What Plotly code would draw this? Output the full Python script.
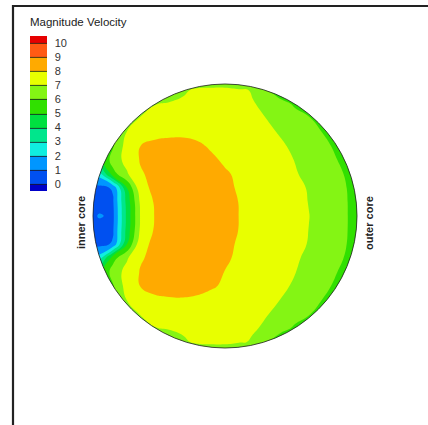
import numpy as np
import plotly.graph_objects as go

# grid positions (mm from the core centre); circle radius = 132
X_POS = [-140, -126, -112, -98, -84, -70, -56, -42, -28, -14, 0, 14, 28, 42, 56, 70, 84, 98, 112, 126, 140]
Y_POS = [140, 126, 112, 98, 84, 70, 56, 42, 28, 14, 0, -14, -28, -42, -56, -70, -84, -98, -112, -126, -140]
RADIUS = 132

# velocity magnitude, one row per Y_POS (top to bottom)
VELOCITY = [
    [4.0, 4.0, 4.0, 4.0, 4.0, 4.0, 4.0, 4.0, 4.0, 4.0, 4.0, 4.0, 4.0, 4.0, 4.0, 4.0, 4.0, 4.0, 4.0, 4.0, 4.0],
    [3.5, 3.5, 3.5, 3.5, 3.8, 4.2, 5.0, 6.6, 7.4, 7.55, 7.6, 7.2, 6.9, 6.0, 5.0, 4.5, 4.2, 4.0, 4.0, 4.0, 4.0],
    [3.5, 3.5, 3.5, 3.8, 5.0, 6.95, 7.3, 7.45, 7.5, 7.5, 7.45, 7.3, 7.05, 6.8, 6.5, 5.8, 4.8, 4.3, 4.0, 4.0, 4.0],
    [3.5, 3.5, 4.0, 6.0, 7.2, 7.5, 7.6, 7.62, 7.6, 7.55, 7.45, 7.33, 7.18, 6.98, 6.75, 6.5, 6.1, 5.4, 4.8, 4.5, 4.3],
    [3.5, 3.8, 5.5, 7.05, 7.6, 7.68, 7.75, 7.77, 7.75, 7.68, 7.58, 7.47, 7.33, 7.15, 6.92, 6.7, 6.45, 5.95, 5.3, 4.8, 4.5],
    [3.5, 4.5, 5.9, 7.45, 8.02, 8.25, 8.35, 8.35, 8.15, 7.9, 7.75, 7.65, 7.52, 7.35, 7.1, 6.85, 6.6, 6.4, 5.7, 5.0, 4.5],
    [3.0, 4.5, 6.5, 7.3, 8.1, 8.4, 8.5, 8.5, 8.4, 8.15, 7.88, 7.72, 7.58, 7.4, 7.2, 6.98, 6.75, 6.5, 6.02, 5.2, 4.5],
    [2.0, 2.4, 5.6, 6.9, 7.9, 8.3, 8.5, 8.6, 8.55, 8.4, 8.1, 7.86, 7.7, 7.5, 7.3, 7.06, 6.82, 6.6, 6.35, 5.6, 4.8],
    [0.7, 0.7, 1.1, 5.0, 7.8, 8.15, 8.5, 8.65, 8.68, 8.5, 8.22, 7.9, 7.76, 7.6, 7.4, 7.17, 6.95, 6.7, 6.45, 5.8, 5.0],
    [0.4, 0.5, 0.9, 4.4, 7.3, 8.1, 8.5, 8.7, 8.72, 8.58, 8.32, 7.98, 7.83, 7.66, 7.48, 7.2, 6.98, 6.72, 6.47, 5.85, 5.0],
    [0.3, 1.1, 0.8, 4.3, 7.2, 8.05, 8.5, 8.7, 8.75, 8.6, 8.35, 7.99, 7.84, 7.67, 7.5, 7.25, 7.01, 6.75, 6.5, 5.85, 5.0],
    [0.4, 0.5, 0.9, 4.4, 7.3, 8.1, 8.5, 8.7, 8.72, 8.58, 8.32, 7.98, 7.83, 7.66, 7.48, 7.22, 6.99, 6.72, 6.47, 5.85, 5.0],
    [0.7, 0.7, 1.1, 5.0, 7.8, 8.15, 8.5, 8.65, 8.68, 8.5, 8.22, 7.9, 7.76, 7.6, 7.4, 7.2, 6.96, 6.7, 6.45, 5.8, 5.0],
    [2.0, 2.4, 5.6, 6.9, 7.9, 8.3, 8.5, 8.6, 8.55, 8.4, 8.12, 7.86, 7.7, 7.5, 7.3, 7.1, 6.85, 6.6, 6.35, 5.6, 4.8],
    [3.0, 4.5, 6.5, 7.3, 8.1, 8.4, 8.5, 8.52, 8.45, 8.25, 7.98, 7.78, 7.6, 7.4, 7.22, 7.02, 6.78, 6.5, 6.02, 5.2, 4.5],
    [3.5, 4.5, 5.9, 7.45, 8.05, 8.25, 8.35, 8.38, 8.3, 8.1, 7.88, 7.72, 7.58, 7.4, 7.15, 6.9, 6.62, 6.4, 5.7, 5.0, 4.5],
    [3.5, 3.8, 5.5, 7.05, 7.6, 7.85, 7.9, 7.92, 7.85, 7.72, 7.6, 7.48, 7.35, 7.18, 6.98, 6.75, 6.48, 5.95, 5.3, 4.8, 4.5],
    [3.5, 3.5, 4.0, 6.0, 7.2, 7.5, 7.6, 7.62, 7.6, 7.55, 7.45, 7.35, 7.2, 7.03, 6.8, 6.52, 6.1, 5.4, 4.8, 4.5, 4.3],
    [3.5, 3.5, 3.5, 3.8, 5.0, 6.95, 7.3, 7.45, 7.5, 7.5, 7.45, 7.32, 7.1, 6.85, 6.5, 5.8, 4.8, 4.3, 4.0, 4.0, 4.0],
    [3.5, 3.5, 3.5, 3.5, 3.8, 4.2, 5.0, 6.6, 7.4, 7.55, 7.6, 7.15, 6.88, 6.0, 5.0, 4.5, 4.2, 4.0, 4.0, 4.0, 4.0],
    [4.0, 4.0, 4.0, 4.0, 4.0, 4.0, 4.0, 4.0, 4.0, 4.0, 4.0, 4.0, 4.0, 4.0, 4.0, 4.0, 4.0, 4.0, 4.0, 4.0, 4.0],
]

LEVELS = [0, 1, 2, 3, 4, 5, 6, 7, 8, 9, 10]
TICK_LABELS = ["0", "1", "2", "3", "4", "5", "6", "7", "8", "9", "10"]
# band colours: below 0, 0-1, ..., 9-10, above 10
BAND_COLORS = ["#0000c8", "#0050f0", "#0096ff", "#10eee0", "#00e68c", "#00e040",
               "#30e000", "#84f514", "#e8ff00", "#ffaa00", "#ff5a14", "#e60000"]

TITLE = "Magnitude Velocity"
LEFT_LABEL = "inner core"
RIGHT_LABEL = "outer core"

colorscale = [[i / (len(BAND_COLORS) - 1), c] for i, c in enumerate(BAND_COLORS)]
y_up = Y_POS[::-1]
z_up = VELOCITY[::-1]
contours = dict(start=LEVELS[0], end=LEVELS[-1], size=1, coloring="fill")

fig = go.Figure()
fig.add_trace(go.Contour(
    x=X_POS, y=y_up, z=z_up, autocontour=False,
    contours=dict(contours, showlines=False),
    colorscale=colorscale, line=dict(width=0, smoothing=1.3),
    showscale=False, hoverinfo="skip"))

# legend-only copy (placed off its hidden axes) so the colour bar shows level lines
fig.add_trace(go.Contour(
    x=X_POS, y=y_up, z=z_up, autocontour=False, xaxis="x2", yaxis="y2",
    contours=dict(contours, showlines=True),
    colorscale=colorscale, line=dict(width=0.8, color="#1a1a1a"),
    hoverinfo="skip", showscale=True,
    colorbar=dict(
        xref="container", yref="container", x=30 / 428, y=1 - 54.5 / 425,
        xanchor="left", yanchor="top", xpad=0, ypad=0,
        lenmode="pixels", len=155, thicknessmode="pixels", thickness=17,
        outlinewidth=0, ticks="outside", ticklen=6, tickcolor="rgba(0,0,0,0)",
        tickmode="array", tickvals=LEVELS, ticktext=TICK_LABELS,
        tickfont=dict(family="Arial", size=11, color="#333333"))))

# white mask outside the circle
theta = np.linspace(0, 2 * np.pi, 241)
circ = " ".join(("M" if i == 0 else "L") + f" {RADIUS * np.cos(t):.3f},{RADIUS * np.sin(t):.3f}"
                for i, t in enumerate(theta)) + " Z"
mask = "M -400,-400 L 400,-400 L 400,400 L -400,400 Z " + circ

PL, PT, PW, PH = 85, 76, 280, 280


def px_x(px):
    return (px - PL) / PW


def px_y(py):
    return (PT + PH - py) / PH


fig.update_layout(
    width=428, height=425,
    margin=dict(l=PL, r=428 - PL - PW, t=PT, b=425 - PT - PH, autoexpand=False),
    paper_bgcolor="white", plot_bgcolor="white",
    xaxis=dict(range=[-140, 140], visible=False),
    yaxis=dict(range=[-140, 140], visible=False),
    xaxis2=dict(overlaying="x", range=[1000, 1001], visible=False),
    yaxis2=dict(overlaying="y", range=[1000, 1001], visible=False),
    showlegend=False,
    shapes=[
        dict(type="path", path=mask, xref="x", yref="y", fillcolor="white",
             line=dict(width=0), layer="above", fillrule="evenodd"),
        dict(type="circle", xref="x", yref="y", x0=-RADIUS, y0=-RADIUS, x1=RADIUS, y1=RADIUS,
             line=dict(color="rgba(30,30,30,0.8)", width=1), layer="above"),
        # frame: left and top edges (right and bottom lie beyond the picture)
        dict(type="line", xref="paper", yref="paper",
             x0=px_x(13), x1=px_x(13), y0=px_y(430), y1=px_y(5),
             line=dict(color="#222222", width=2.2), layer="above"),
        dict(type="line", xref="paper", yref="paper",
             x0=px_x(12), x1=px_x(430), y0=px_y(6), y1=px_y(6),
             line=dict(color="#222222", width=2.2), layer="above"),
    ],
    annotations=[
        dict(text=TITLE, xref="paper", yref="paper", x=px_x(28), y=px_y(22),
             xanchor="left", yanchor="middle", showarrow=False,
             font=dict(family="Arial", size=11.5, color="#222222")),
        dict(text=f"<b>{LEFT_LABEL}</b>", xref="paper", yref="paper", x=px_x(81), y=px_y(223),
             xanchor="center", yanchor="middle", textangle=-90, showarrow=False,
             font=dict(family="Arial", size=11, color="#222222")),
        dict(text=f"<b>{RIGHT_LABEL}</b>", xref="paper", yref="paper", x=px_x(369), y=px_y(223),
             xanchor="center", yanchor="middle", textangle=-90, showarrow=False,
             font=dict(family="Arial", size=11, color="#222222")),
    ],
)

fig.write_html("out.html", config={"displayModeBar": False},
               post_script="document.body.style.margin='0px';")
